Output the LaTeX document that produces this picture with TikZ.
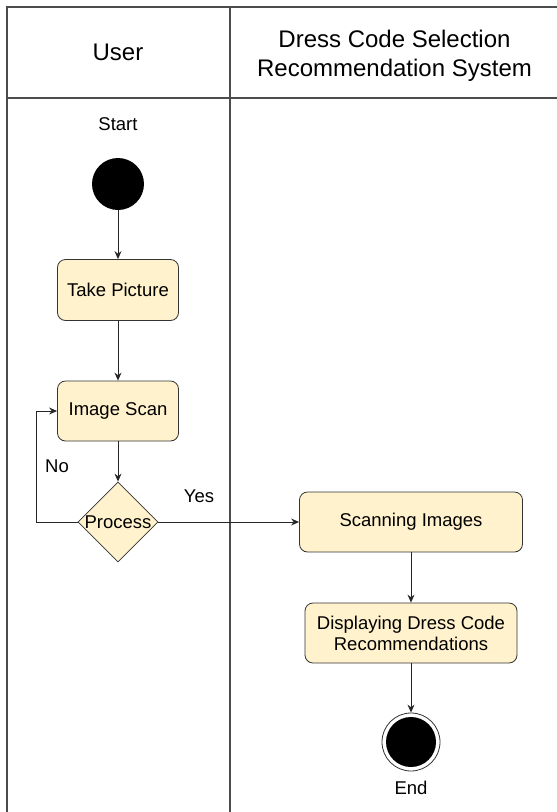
\documentclass[tikz,border=0pt]{standalone}
\usepackage{fontspec}
\setmainfont{Liberation Sans}
\usetikzlibrary{shapes.geometric,arrows.meta}
\definecolor{actfill}{HTML}{FFF2CC}
\newcommand{\bodyfont}{\fontsize{18.5}{21}\selectfont}
\newcommand{\headfont}{\fontsize{24}{29}\selectfont}

\begin{document}
\begin{tikzpicture}[x=1pt,y=-1pt,line cap=round]
  \tikzset{
    lane/.style={line width=1.1pt,black!70},
    action/.style={draw=black!80,fill=actfill,rounded corners=8pt,line width=0.8pt,
      inner sep=0pt,align=center,font=\bodyfont},
    choice/.style={diamond,draw=black!80,fill=actfill,line width=0.8pt,
      minimum width=80pt,minimum height=80pt,inner sep=0pt,font=\bodyfont},
    dot/.style={circle,fill=black,inner sep=0pt},
    flow/.style={-{Stealth[length=8pt,width=7pt]},line width=0.9pt,black!85},
    label/.style={font=\bodyfont}
  }
  \useasboundingbox (0,0) rectangle (557,812);

  % Swimlanes
  \draw[lane] (557,7) -- (7,7) -- (7,812);
  \draw[lane] (7,98) -- (557,98);
  \draw[lane] (230,7) -- (230,812);
  \node[font=\headfont] (userhead) at (118,52) {User};
  \node[font=\headfont,align=center] (systemhead) at (394.5,56)
    {Dress Code Selection\\Recommendation System};

  % User lane
  \node[label] (startlabel) at (118,124) {Start};
  \node[dot,minimum size=52pt] (start) at (118,184) {};
  \node[action,minimum width=121pt,minimum height=61pt] (takepic) at (118,290) {Take Picture};
  \node[action,minimum width=121pt,minimum height=60pt] (imgscan) at (118,411) {Image Scan};
  \node[choice] (process) at (118,522) {Process};
  \coordinate (loopcorner) at (36,522);

  % System lane
  \node[action,minimum width=223pt,minimum height=60pt] (scanning) at (411,522) {Scanning Images};
  \node[action,minimum width=212pt,minimum height=60pt] (display) at (411,633)
    {Displaying Dress Code\\Recommendations};
  \node[circle,draw=black!80,line width=0.8pt,fill=white,minimum size=58pt,inner sep=0pt]
    (endstate) at (411,742) {};
  \node[dot,minimum size=50pt] (endcore) at (endstate) {};
  \node[label] (endlabel) at (411,788) {End};

  % Flow
  \draw[flow] (start) -- (takepic);
  \draw[flow] (takepic) -- (imgscan);
  \draw[flow] (imgscan) -- (process);
  \draw[flow] (process.west) -- (loopcorner) |- (imgscan.west);
  \draw[flow] (process.east) -- (scanning.west);
  \draw[flow] (scanning) -- (display);
  \draw[flow] (display) -- (endstate);
  \node[label] (nolabel) at (57,466) {No};
  \node[label] (yeslabel) at (199,496) {Yes};
\end{tikzpicture}
\end{document}
